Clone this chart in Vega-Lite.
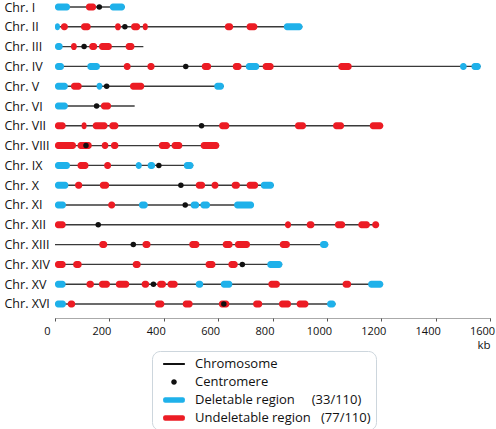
{
  "$schema": "https://vega.github.io/schema/vega-lite/v6.json",
  "width": 435,
  "height": 311,
  "autosize": {"type": "none"},
  "padding": {"left": 55, "top": 0, "right": 6, "bottom": 118},
  "background": "white",
  "config": {"view": {"stroke": null}, "font": "Open Sans"},
  "datasets": {
    "chroms": [
      {"chr": "Chr. I", "start": 0, "len": 257, "cen": 163},
      {"chr": "Chr. II", "start": 0, "len": 910, "cen": 257},
      {"chr": "Chr. III", "start": 0, "len": 325, "cen": 107},
      {"chr": "Chr. IV", "start": 0, "len": 1566, "cen": 481},
      {"chr": "Chr. V", "start": 0, "len": 621, "cen": 190},
      {"chr": "Chr. VI", "start": 0, "len": 293, "cen": 153},
      {"chr": "Chr. VII", "start": 0, "len": 1207, "cen": 539},
      {"chr": "Chr. VIII", "start": 0, "len": 604, "cen": 114},
      {"chr": "Chr. IX", "start": 0, "len": 509, "cen": 382},
      {"chr": "Chr. X", "start": 0, "len": 805, "cen": 463},
      {"chr": "Chr. XI", "start": 0, "len": 732, "cen": 479},
      {"chr": "Chr. XII", "start": 0, "len": 1192, "cen": 159},
      {"chr": "Chr. XIII", "start": 0, "len": 1005, "cen": 288},
      {"chr": "Chr. XIV", "start": 0, "len": 836, "cen": 689},
      {"chr": "Chr. XV", "start": 0, "len": 1207, "cen": 362},
      {"chr": "Chr. XVI", "start": 0, "len": 1032, "cen": 621}
    ],
    "blocks": [
      {"chr": "Chr. I", "start": 0, "end": 55, "type": "Deletable"},
      {"chr": "Chr. I", "start": 114, "end": 151, "type": "Undeletable"},
      {"chr": "Chr. I", "start": 202, "end": 257, "type": "Deletable"},

      {"chr": "Chr. II", "start": 0, "end": 18, "type": "Deletable"},
      {"chr": "Chr. II", "start": 22, "end": 47, "type": "Undeletable"},
      {"chr": "Chr. II", "start": 96, "end": 131, "type": "Undeletable"},
      {"chr": "Chr. II", "start": 221, "end": 242, "type": "Undeletable"},
      {"chr": "Chr. II", "start": 280, "end": 313, "type": "Undeletable"},
      {"chr": "Chr. II", "start": 323, "end": 341, "type": "Undeletable"},
      {"chr": "Chr. II", "start": 625, "end": 655, "type": "Undeletable"},
      {"chr": "Chr. II", "start": 705, "end": 744, "type": "Undeletable"},
      {"chr": "Chr. II", "start": 842, "end": 910, "type": "Deletable"},

      {"chr": "Chr. III", "start": 0, "end": 28, "type": "Deletable"},
      {"chr": "Chr. III", "start": 59, "end": 80, "type": "Undeletable"},
      {"chr": "Chr. III", "start": 126, "end": 155, "type": "Undeletable"},
      {"chr": "Chr. III", "start": 162, "end": 209, "type": "Undeletable"},
      {"chr": "Chr. III", "start": 260, "end": 292, "type": "Undeletable"},

      {"chr": "Chr. IV", "start": 0, "end": 33, "type": "Deletable"},
      {"chr": "Chr. IV", "start": 119, "end": 165, "type": "Deletable"},
      {"chr": "Chr. IV", "start": 253, "end": 278, "type": "Undeletable"},
      {"chr": "Chr. IV", "start": 340, "end": 366, "type": "Undeletable"},
      {"chr": "Chr. IV", "start": 540, "end": 574, "type": "Undeletable"},
      {"chr": "Chr. IV", "start": 654, "end": 686, "type": "Undeletable"},
      {"chr": "Chr. IV", "start": 702, "end": 751, "type": "Deletable"},
      {"chr": "Chr. IV", "start": 764, "end": 804, "type": "Undeletable"},
      {"chr": "Chr. IV", "start": 1042, "end": 1091, "type": "Undeletable"},
      {"chr": "Chr. IV", "start": 1490, "end": 1514, "type": "Deletable"},
      {"chr": "Chr. IV", "start": 1532, "end": 1566, "type": "Deletable"},

      {"chr": "Chr. V", "start": 0, "end": 47, "type": "Deletable"},
      {"chr": "Chr. V", "start": 59, "end": 98, "type": "Undeletable"},
      {"chr": "Chr. V", "start": 153, "end": 174, "type": "Deletable"},
      {"chr": "Chr. V", "start": 276, "end": 328, "type": "Undeletable"},
      {"chr": "Chr. V", "start": 586, "end": 621, "type": "Deletable"},

      {"chr": "Chr. VI", "start": 0, "end": 47, "type": "Deletable"},
      {"chr": "Chr. VI", "start": 169, "end": 206, "type": "Undeletable"},

      {"chr": "Chr. VII", "start": 0, "end": 39, "type": "Undeletable"},
      {"chr": "Chr. VII", "start": 98, "end": 116, "type": "Undeletable"},
      {"chr": "Chr. VII", "start": 139, "end": 193, "type": "Undeletable"},
      {"chr": "Chr. VII", "start": 200, "end": 233, "type": "Undeletable"},
      {"chr": "Chr. VII", "start": 604, "end": 641, "type": "Undeletable"},
      {"chr": "Chr. VII", "start": 883, "end": 923, "type": "Undeletable"},
      {"chr": "Chr. VII", "start": 1023, "end": 1063, "type": "Undeletable"},
      {"chr": "Chr. VII", "start": 1158, "end": 1207, "type": "Undeletable"},

      {"chr": "Chr. VIII", "start": 0, "end": 77, "type": "Undeletable"},
      {"chr": "Chr. VIII", "start": 83, "end": 135, "type": "Undeletable"},
      {"chr": "Chr. VIII", "start": 172, "end": 196, "type": "Undeletable"},
      {"chr": "Chr. VIII", "start": 206, "end": 233, "type": "Undeletable"},
      {"chr": "Chr. VIII", "start": 382, "end": 423, "type": "Undeletable"},
      {"chr": "Chr. VIII", "start": 429, "end": 468, "type": "Undeletable"},
      {"chr": "Chr. VIII", "start": 536, "end": 604, "type": "Undeletable"},

      {"chr": "Chr. IX", "start": 0, "end": 55, "type": "Deletable"},
      {"chr": "Chr. IX", "start": 83, "end": 123, "type": "Undeletable"},
      {"chr": "Chr. IX", "start": 181, "end": 206, "type": "Undeletable"},
      {"chr": "Chr. IX", "start": 297, "end": 319, "type": "Deletable"},
      {"chr": "Chr. IX", "start": 341, "end": 368, "type": "Deletable"},
      {"chr": "Chr. IX", "start": 474, "end": 509, "type": "Deletable"},

      {"chr": "Chr. X", "start": 0, "end": 49, "type": "Deletable"},
      {"chr": "Chr. X", "start": 74, "end": 100, "type": "Undeletable"},
      {"chr": "Chr. X", "start": 165, "end": 199, "type": "Undeletable"},
      {"chr": "Chr. X", "start": 518, "end": 552, "type": "Undeletable"},
      {"chr": "Chr. X", "start": 576, "end": 601, "type": "Undeletable"},
      {"chr": "Chr. X", "start": 650, "end": 680, "type": "Undeletable"},
      {"chr": "Chr. X", "start": 705, "end": 747, "type": "Undeletable"},
      {"chr": "Chr. X", "start": 757, "end": 805, "type": "Deletable"},

      {"chr": "Chr. XI", "start": 0, "end": 40, "type": "Deletable"},
      {"chr": "Chr. XI", "start": 196, "end": 221, "type": "Undeletable"},
      {"chr": "Chr. XI", "start": 309, "end": 341, "type": "Deletable"},
      {"chr": "Chr. XI", "start": 499, "end": 530, "type": "Deletable"},
      {"chr": "Chr. XI", "start": 535, "end": 570, "type": "Deletable"},
      {"chr": "Chr. XI", "start": 659, "end": 732, "type": "Deletable"},

      {"chr": "Chr. XII", "start": 0, "end": 39, "type": "Undeletable"},
      {"chr": "Chr. XII", "start": 846, "end": 868, "type": "Undeletable"},
      {"chr": "Chr. XII", "start": 926, "end": 954, "type": "Undeletable"},
      {"chr": "Chr. XII", "start": 1030, "end": 1067, "type": "Undeletable"},
      {"chr": "Chr. XII", "start": 1116, "end": 1158, "type": "Undeletable"},
      {"chr": "Chr. XII", "start": 1167, "end": 1192, "type": "Undeletable"},

      {"chr": "Chr. XIII", "start": 163, "end": 192, "type": "Undeletable"},
      {"chr": "Chr. XIII", "start": 322, "end": 351, "type": "Undeletable"},
      {"chr": "Chr. XIII", "start": 494, "end": 531, "type": "Undeletable"},
      {"chr": "Chr. XIII", "start": 617, "end": 653, "type": "Undeletable"},
      {"chr": "Chr. XIII", "start": 662, "end": 717, "type": "Undeletable"},
      {"chr": "Chr. XIII", "start": 827, "end": 864, "type": "Undeletable"},
      {"chr": "Chr. XIII", "start": 975, "end": 1005, "type": "Deletable"},

      {"chr": "Chr. XIV", "start": 0, "end": 39, "type": "Undeletable"},
      {"chr": "Chr. XIV", "start": 67, "end": 98, "type": "Undeletable"},
      {"chr": "Chr. XIV", "start": 286, "end": 315, "type": "Undeletable"},
      {"chr": "Chr. XIV", "start": 554, "end": 590, "type": "Undeletable"},
      {"chr": "Chr. XIV", "start": 638, "end": 672, "type": "Undeletable"},
      {"chr": "Chr. XIV", "start": 781, "end": 836, "type": "Deletable"},

      {"chr": "Chr. XV", "start": 0, "end": 39, "type": "Deletable"},
      {"chr": "Chr. XV", "start": 116, "end": 143, "type": "Undeletable"},
      {"chr": "Chr. XV", "start": 162, "end": 202, "type": "Undeletable"},
      {"chr": "Chr. XV", "start": 224, "end": 273, "type": "Undeletable"},
      {"chr": "Chr. XV", "start": 319, "end": 346, "type": "Undeletable"},
      {"chr": "Chr. XV", "start": 376, "end": 408, "type": "Undeletable"},
      {"chr": "Chr. XV", "start": 414, "end": 451, "type": "Undeletable"},
      {"chr": "Chr. XV", "start": 518, "end": 545, "type": "Deletable"},
      {"chr": "Chr. XV", "start": 610, "end": 652, "type": "Deletable"},
      {"chr": "Chr. XV", "start": 785, "end": 827, "type": "Undeletable"},
      {"chr": "Chr. XV", "start": 1058, "end": 1089, "type": "Undeletable"},
      {"chr": "Chr. XV", "start": 1152, "end": 1207, "type": "Deletable"},

      {"chr": "Chr. XVI", "start": 0, "end": 40, "type": "Deletable"},
      {"chr": "Chr. XVI", "start": 47, "end": 74, "type": "Undeletable"},
      {"chr": "Chr. XVI", "start": 368, "end": 402, "type": "Undeletable"},
      {"chr": "Chr. XVI", "start": 470, "end": 506, "type": "Undeletable"},
      {"chr": "Chr. XVI", "start": 603, "end": 641, "type": "Undeletable"},
      {"chr": "Chr. XVI", "start": 729, "end": 762, "type": "Undeletable"},
      {"chr": "Chr. XVI", "start": 824, "end": 868, "type": "Undeletable"},
      {"chr": "Chr. XVI", "start": 889, "end": 932, "type": "Undeletable"},
      {"chr": "Chr. XVI", "start": 1001, "end": 1032, "type": "Deletable"}
    ]
  },
  "layer": [
    {
      "data": {"name": "chroms"},
      "mark": {"type": "rule", "color": "#3a3a3a", "strokeWidth": 1.4},
      "encoding": {
        "y": {
          "field": "chr",
          "type": "nominal",
          "scale": {
            "type": "point",
            "padding": 0.354,
            "domain": ["Chr. I", "Chr. II", "Chr. III", "Chr. IV", "Chr. V", "Chr. VI", "Chr. VII", "Chr. VIII", "Chr. IX", "Chr. X", "Chr. XI", "Chr. XII", "Chr. XIII", "Chr. XIV", "Chr. XV", "Chr. XVI"]
          },
          "axis": {
            "title": null,
            "domain": false,
            "ticks": false,
            "grid": false,
            "labelAlign": "left",
            "labelBaseline": "middle",
            "labelPadding": 51,
            "labelFont": "Open Sans",
            "labelFontSize": 12.5,
            "labelColor": "#111111"
          }
        },
        "x": {
          "field": "start",
          "type": "quantitative",
          "scale": {"domain": [0, 1600], "nice": false},
          "axis": {
            "orient": "bottom",
            "offset": 7,
            "values": [0, 200, 400, 600, 800, 1000, 1200, 1400, 1600],
            "format": "d",
            "grid": false,
            "domainDash": [1, 1],
            "domainColor": "#555555",
            "domainWidth": 1,
            "tickColor": "#555555",
            "tickSize": 3,
            "labelFont": "Open Sans",
            "labelFontSize": 11,
            "labelColor": "#111111",
            "labelPadding": 4,
            "labelOffset": -8,
            "labelFlush": false,
            "title": "kb",
            "titleFont": "Open Sans",
            "titleFontSize": 11.5,
            "titleFontWeight": "normal",
            "titleColor": "#111111",
            "titleAnchor": "end",
            "titleAlign": "right",
            "titlePadding": 3
          }
        },
        "x2": {"field": "len"}
      }
    },
    {
      "data": {"name": "blocks"},
      "mark": {"type": "bar", "height": 7, "cornerRadius": 3},
      "encoding": {
        "y": {"field": "chr", "type": "nominal"},
        "x": {"field": "start", "type": "quantitative"},
        "x2": {"field": "end"},
        "color": {
          "field": "type",
          "type": "nominal",
          "scale": {
            "domain": ["Chromosome", "Centromere", "Deletable", "Undeletable"],
            "range": ["#111111", "#111111", "#1fb1ea", "#ec1c24"]
          },
          "legend": {
            "orient": "none",
            "legendX": 97,
            "legendY": 351,
            "title": null,
            "labelExpr": "datum.value == 'Deletable' ? 'Deletable region\u00a0\u00a0\u00a0\u00a0\u00a0(33/110)' : datum.value == 'Undeletable' ? 'Undeletable region\u00a0\u00a0\u00a0(77/110)\u00a0\u00a0\u00a0' : datum.value",
            "labelFont": "Open Sans",
            "labelFontSize": 13,
            "labelColor": "#111111",
            "labelLimit": 400,
            "symbolSize": 196,
            "symbolOffset": 9,
            "labelOffset": 13,
            "rowPadding": 3,
            "padding": 5,
            "strokeColor": "#cdd6dd",
            "cornerRadius": 8,
            "encode": {
              "symbols": {
                "update": {
                  "shape": {"signal": "datum.value == 'Chromosome' ? 'M-1.55,0H1.55' : datum.value == 'Centromere' ? 'M-0.4,0A0.4,0.4 0 1 0 0.4,0A0.4,0.4 0 1 0 -0.4,0Z' : 'M-1.27,-0.38H1.27A0.28,0.28 0 0 1 1.55,-0.1V0.1A0.28,0.28 0 0 1 1.27,0.38H-1.27A0.28,0.28 0 0 1 -1.55,0.1V-0.1A0.28,0.28 0 0 1 -1.27,-0.38Z'"},
                  "fill": {"signal": "datum.value == 'Chromosome' ? 'transparent' : datum.value == 'Centromere' ? '#111111' : datum.value == 'Deletable' ? '#1fb1ea' : '#ec1c24'"},
                  "stroke": {"signal": "datum.value == 'Chromosome' ? '#111111' : 'transparent'"},
                  "strokeWidth": {"value": 2},
                  "opacity": {"value": 1}
                }
              }
            }
          }
        }
      }
    },
    {
      "data": {"name": "chroms"},
      "mark": {"type": "point", "filled": true, "color": "#111111", "size": 30, "opacity": 1},
      "encoding": {
        "y": {"field": "chr", "type": "nominal"},
        "x": {"field": "cen", "type": "quantitative"}
      }
    }
  ]
}
